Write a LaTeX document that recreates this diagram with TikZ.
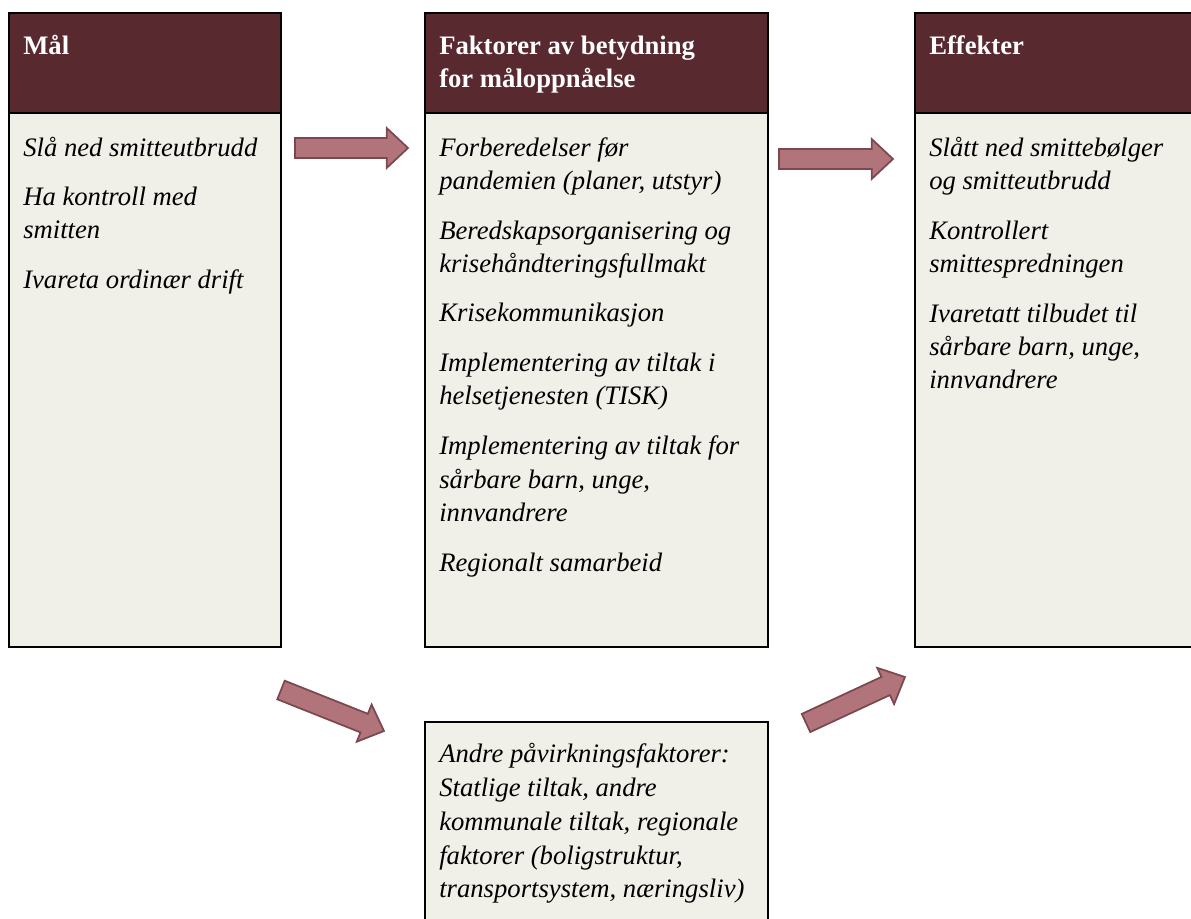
\documentclass[tikz,border=0pt]{standalone}
\usepackage{fontspec}
\setmainfont{Liberation Serif}
\usetikzlibrary{calc}
\definecolor{hdr}{HTML}{582A30}
\definecolor{pane}{HTML}{F0EFE8}
\definecolor{arrfill}{HTML}{B0747A}
\definecolor{arredge}{HTML}{7A484E}
\tikzset{
  headbox/.style={fill=hdr, draw=black, line width=1.8pt},
  panebox/.style={fill=pane, draw=black, line width=1.8pt},
  headtxt/.style={anchor=base west, inner sep=0pt, text=white,
    font=\fontsize{20}{24}\selectfont\bfseries},
  bodytxt/.style={anchor=base west, inner sep=0pt, text=black,
    font=\fontsize{20}{24}\selectfont\itshape},
  barrow/.style={fill=arrfill, draw=arredge, line width=1.3pt, line join=miter},
}
% block arrow from #1 (tail centre) to #2 (tip)
\newcommand\blockarrow[2]{%
  \draw[barrow]
    ($(#1)!7.5pt!90:(#2)$)
    -- ($(#2)!16pt!(#1)!7.5pt!-90:(#1)$)
    -- ($(#2)!16pt!(#1)!15pt!-90:(#1)$)
    -- (#2)
    -- ($(#2)!16pt!(#1)!15pt!90:(#1)$)
    -- ($(#2)!16pt!(#1)!7.5pt!90:(#1)$)
    -- ($(#1)!7.5pt!-90:(#2)$) -- cycle;}
\begin{document}
\begin{tikzpicture}[x=0.75pt, y=-0.75pt]
  \useasboundingbox (0,0) rectangle (1191,919);
  \fill[white] (0,0) rectangle (1191,919);
  \clip (0,0) rectangle (1191,919);

  % three columns: goals, factors, effects
  \draw[panebox] (9,113) rectangle (281,647);
  \draw[headbox] (9,13) rectangle (281,113);
  \draw[panebox] (425,113) rectangle (768,647);
  \draw[headbox] (425,13) rectangle (768,113);
  \draw[panebox] (915,113) rectangle (1260,647);
  \draw[headbox] (915,13) rectangle (1260,113);
  % other influences
  \draw[panebox] (425,722) rectangle (768,980);

  % headings
  \node[headtxt] (hmaal) at (23,55) {Mål};
  \node[headtxt] (hfak1) at (439,55) {Faktorer av betydning};
  \node[headtxt] (hfak2) at (439,88) {for måloppnåelse};
  \node[headtxt] (heff) at (929,55) {Effekter};

  % goals
  \foreach \t/\yy [count=\i] in {
      {Slå ned smitteutbrudd}/157,
      {Ha kontroll med}/206,
      {smitten}/239,
      {Ivareta ordinær drift}/289}
    \node[bodytxt] (goal\i) at (23,\yy) {\t};

  % factors
  \foreach \t/\yy [count=\i] in {
      {Forberedelser før}/157,
      {pandemien (planer, utstyr)}/190,
      {Beredskapsorganisering og}/240,
      {krisehåndteringsfullmakt}/273,
      {Krisekommunikasjon}/322,
      {Implementering av tiltak i}/372,
      {helsetjenesten (TISK)}/405,
      {Implementering av tiltak for}/455,
      {sårbare barn, unge,}/488,
      {innvandrere}/521,
      {Regionalt samarbeid}/571}
    \node[bodytxt] (fac\i) at (439,\yy) {\t};

  % effects
  \foreach \t/\yy [count=\i] in {
      {Slått ned smittebølger}/157,
      {og smitteutbrudd}/190,
      {Kontrollert}/240,
      {smittespredningen}/273,
      {Ivaretatt tilbudet til}/323,
      {sårbare barn, unge,}/356,
      {innvandrere}/389}
    \node[bodytxt] (eff\i) at (929,\yy) {\t};

  % other influencing factors
  \foreach \t/\yy [count=\i] in {
      {Andre påvirkningsfaktorer:}/762,
      {Statlige tiltak, andre}/796,
      {kommunale tiltak, regionale}/830,
      {faktorer (boligstruktur,}/864,
      {transportsystem, næringsliv)}/897}
    \node[bodytxt] (oth\i) at (439,\yy) {\t};

  % arrows
  \coordinate (a1s) at (295,148);  \coordinate (a1e) at (408,148);
  \coordinate (a2s) at (779,159);  \coordinate (a2e) at (893,159);
  \coordinate (a3s) at (281,690);  \coordinate (a3e) at (384,731);
  \coordinate (a4s) at (806,723);  \coordinate (a4e) at (905,677);
  \blockarrow{a1s}{a1e}
  \blockarrow{a2s}{a2e}
  \blockarrow{a3s}{a3e}
  \blockarrow{a4s}{a4e}
\end{tikzpicture}
\end{document}
